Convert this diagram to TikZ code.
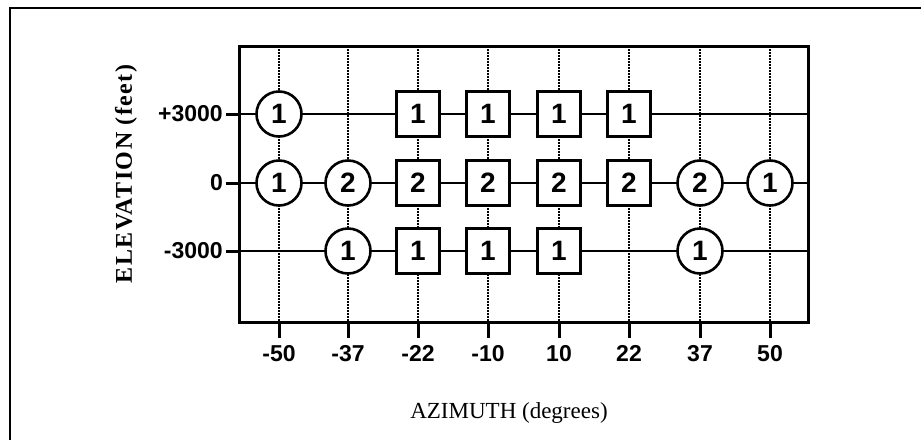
\documentclass[tikz,border=0pt]{standalone}
\usepackage{fontspec}
\setmainfont{Liberation Serif}
\newfontfamily\arialfont{Liberation Sans}
\newfontfamily\spacedserif[LetterSpace=6]{Liberation Serif}
\begin{document}
\begin{tikzpicture}[x=1pt,y=-1pt,
  hgrid/.style={line width=1.3pt, black},
  vgrid/.style={line width=1.6pt, black, dash pattern=on 2pt off 1pt},
  boxline/.style={line width=3pt},
  outerline/.style={line width=2pt},
  tickmark/.style={line width=3pt},
  circ/.style={circle, draw, line width=2.6pt, fill=white, minimum size=45pt, inner sep=0pt, font=\arialfont\bfseries\fontsize{28}{28}\selectfont},
  sq/.style={rectangle, draw, line width=3pt, fill=white, minimum width=43pt, minimum height=45pt, inner sep=0pt, font=\arialfont\bfseries\fontsize{28}{28}\selectfont},
  numlab/.style={font=\arialfont\bfseries\fontsize{23}{23}\selectfont, inner sep=0pt},
]
\useasboundingbox (0,0) rectangle (921,440);
% outer frame
\coordinate (fbl) at (10,440);
\coordinate (ftl) at (10,8);
\coordinate (ftr) at (921,8);
\draw[outerline] (fbl) -- (ftl) -- (ftr);
% plot box corners
\coordinate (bxtl) at (239,46);
\coordinate (bxbr) at (808,322);
% vertical grid lines and ticks
\foreach \x/\lab [count=\i] in {279/-50,348/-37,418/-22,488/-10,559/10,629/22,700/37,770/50}{
  \coordinate (vt\i) at (\x,46);
  \coordinate (vb\i) at (\x,322);
  \coordinate (vk\i) at (\x,338);
  \draw[vgrid] (vt\i) -- (vb\i);
  \draw[tickmark] (vb\i) -- (vk\i);
  \node[numlab, anchor=north] (xl\i) at (\x,345) {\lab};
}
% horizontal grid lines and ticks
\foreach \y/\lab [count=\j] in {114/+3000,183/0,251/-3000}{
  \coordinate (hl\j) at (239,\y);
  \coordinate (hr\j) at (808,\y);
  \coordinate (hk\j) at (226,\y);
  \draw[hgrid] (hl\j) -- (hr\j);
  \draw[tickmark] (hk\j) -- (hl\j);
  \node[numlab, anchor=east] (yl\j) at (223,\y) {\lab};
}
\draw[boxline] (bxtl) rectangle (bxbr);
% row +3000
\node[circ] (a1) at (279,114) {1};
\node[sq] (a3) at (418,114) {1};
\node[sq] (a4) at (488,114) {1};
\node[sq] (a5) at (559,114) {1};
\node[sq] (a6) at (629,114) {1};
% row 0
\node[circ] (b1) at (279,183) {1};
\node[circ] (b2) at (348,183) {2};
\node[sq] (b3) at (418,183) {2};
\node[sq] (b4) at (488,183) {2};
\node[sq] (b5) at (559,183) {2};
\node[sq] (b6) at (629,183) {2};
\node[circ] (b7) at (700,183) {2};
\node[circ] (b8) at (770,183) {1};
% row -3000
\node[circ] (c2) at (348,251) {1};
\node[sq] (c3) at (418,251) {1};
\node[sq] (c4) at (488,251) {1};
\node[sq] (c5) at (559,251) {1};
\node[circ] (c7) at (700,251) {1};
% axis titles
\node[rotate=90, font=\spacedserif\bfseries\fontsize{24}{24}\selectfont, inner sep=0pt] (ytitle) at (126,174) {ELEVATION (feet)};
\node[font=\fontsize{23}{23}\selectfont, inner sep=0pt] (xtitle) at (509,413) {AZIMUTH (degrees)};
\end{tikzpicture}
\end{document}
